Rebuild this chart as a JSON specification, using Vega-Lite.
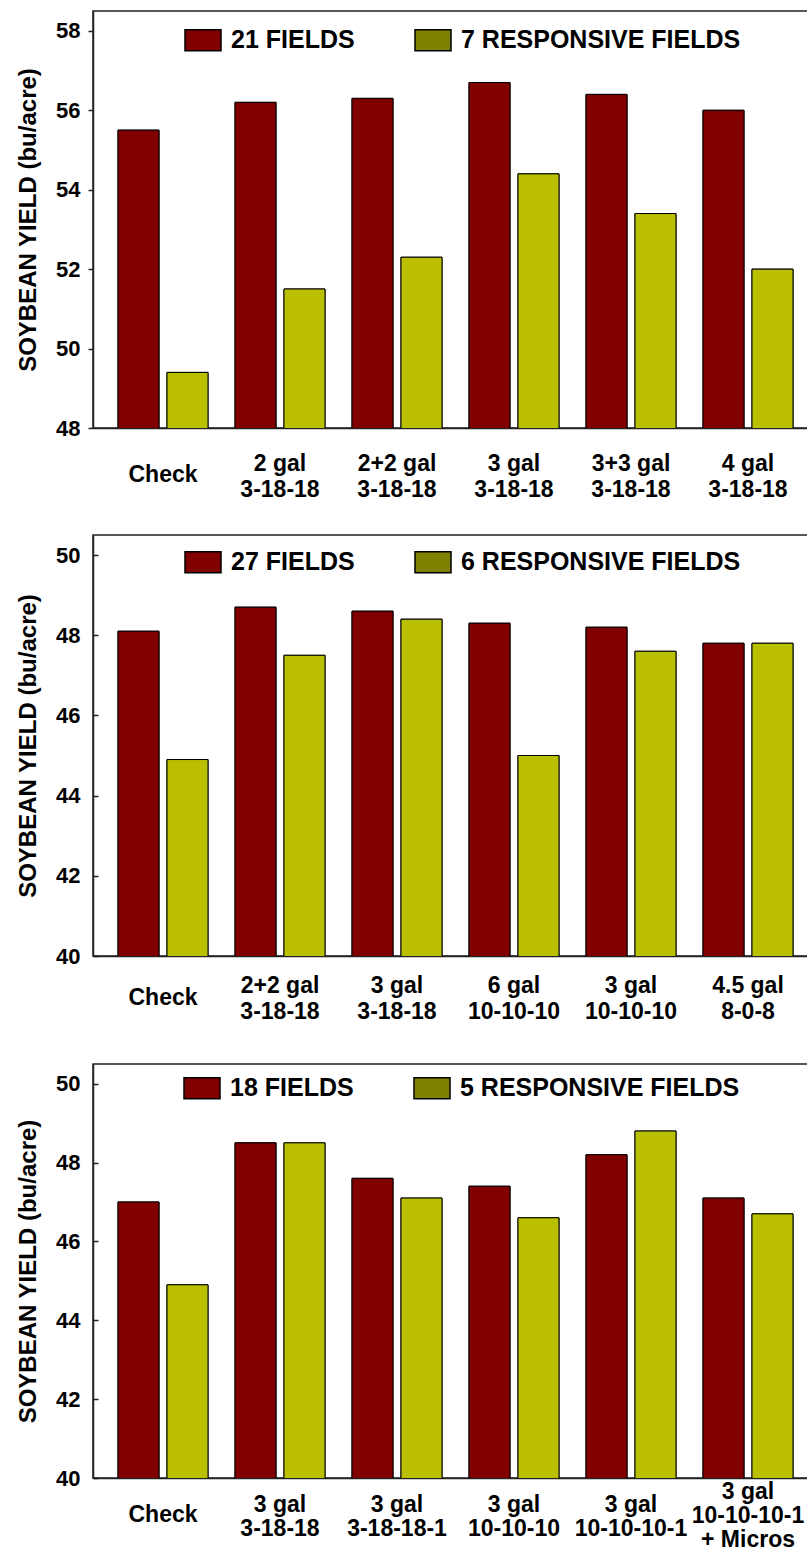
{
  "$schema": "https://vega.github.io/schema/vega-lite/v6.json",
  "padding": {"left": 15, "top": 10, "right": 0, "bottom": 0},
  "background": "white",
  "datasets": {
    "p1": [
      {"treatment": "Check", "series": "21 FIELDS", "yield": 55.5},
      {"treatment": "Check", "series": "7 RESPONSIVE FIELDS", "yield": 49.4},
      {"treatment": "2 gal\n3-18-18", "series": "21 FIELDS", "yield": 56.2},
      {"treatment": "2 gal\n3-18-18", "series": "7 RESPONSIVE FIELDS", "yield": 51.5},
      {"treatment": "2+2 gal\n3-18-18", "series": "21 FIELDS", "yield": 56.3},
      {"treatment": "2+2 gal\n3-18-18", "series": "7 RESPONSIVE FIELDS", "yield": 52.3},
      {"treatment": "3 gal\n3-18-18", "series": "21 FIELDS", "yield": 56.7},
      {"treatment": "3 gal\n3-18-18", "series": "7 RESPONSIVE FIELDS", "yield": 54.4},
      {"treatment": "3+3 gal\n3-18-18", "series": "21 FIELDS", "yield": 56.4},
      {"treatment": "3+3 gal\n3-18-18", "series": "7 RESPONSIVE FIELDS", "yield": 53.4},
      {"treatment": "4 gal\n3-18-18", "series": "21 FIELDS", "yield": 56.0},
      {"treatment": "4 gal\n3-18-18", "series": "7 RESPONSIVE FIELDS", "yield": 52.0}
    ],
    "p2": [
      {"treatment": "Check", "series": "27 FIELDS", "yield": 48.1},
      {"treatment": "Check", "series": "6 RESPONSIVE FIELDS", "yield": 44.9},
      {"treatment": "2+2 gal\n3-18-18", "series": "27 FIELDS", "yield": 48.7},
      {"treatment": "2+2 gal\n3-18-18", "series": "6 RESPONSIVE FIELDS", "yield": 47.5},
      {"treatment": "3 gal\n3-18-18", "series": "27 FIELDS", "yield": 48.6},
      {"treatment": "3 gal\n3-18-18", "series": "6 RESPONSIVE FIELDS", "yield": 48.4},
      {"treatment": "6 gal\n10-10-10", "series": "27 FIELDS", "yield": 48.3},
      {"treatment": "6 gal\n10-10-10", "series": "6 RESPONSIVE FIELDS", "yield": 45.0},
      {"treatment": "3 gal\n10-10-10", "series": "27 FIELDS", "yield": 48.2},
      {"treatment": "3 gal\n10-10-10", "series": "6 RESPONSIVE FIELDS", "yield": 47.6},
      {"treatment": "4.5 gal\n8-0-8", "series": "27 FIELDS", "yield": 47.8},
      {"treatment": "4.5 gal\n8-0-8", "series": "6 RESPONSIVE FIELDS", "yield": 47.8}
    ],
    "p3": [
      {"treatment": "Check", "series": "18 FIELDS", "yield": 47.0},
      {"treatment": "Check", "series": "5 RESPONSIVE FIELDS", "yield": 44.9},
      {"treatment": "3 gal\n3-18-18", "series": "18 FIELDS", "yield": 48.5},
      {"treatment": "3 gal\n3-18-18", "series": "5 RESPONSIVE FIELDS", "yield": 48.5},
      {"treatment": "3 gal\n3-18-18-1", "series": "18 FIELDS", "yield": 47.6},
      {"treatment": "3 gal\n3-18-18-1", "series": "5 RESPONSIVE FIELDS", "yield": 47.1},
      {"treatment": "3 gal\n10-10-10", "series": "18 FIELDS", "yield": 47.4},
      {"treatment": "3 gal\n10-10-10", "series": "5 RESPONSIVE FIELDS", "yield": 46.6},
      {"treatment": "3 gal\n10-10-10-1", "series": "18 FIELDS", "yield": 48.2},
      {"treatment": "3 gal\n10-10-10-1", "series": "5 RESPONSIVE FIELDS", "yield": 48.8},
      {"treatment": "3 gal\n10-10-10-1\n+ Micros", "series": "18 FIELDS", "yield": 47.1},
      {"treatment": "3 gal\n10-10-10-1\n+ Micros", "series": "5 RESPONSIVE FIELDS", "yield": 46.7}
    ]
  },
  "spacing": 32,
  "resolve": {"scale": {"x": "independent", "y": "independent", "color": "independent", "fill": "independent", "xOffset": "independent"}, "legend": {"color": "independent"}, "axis": {"x": "independent", "y": "independent"}},
  "vconcat": [
    {
      "width": 715, "height": 417,
      "data": {"name": "p1"},
      "encoding": {
        "x": {"field": "treatment", "type": "nominal", "sort": null,
              "scale": {"paddingInner": 0.2308, "paddingOuter": 0.171, "align": 0.625},
              "axis": {"labelLineHeight": 26, "labelPadding": {"condition": {"test": "datum.value === 'Check'", "value": 46}, "value": 35}}},
        "xOffset": {"field": "series", "type": "nominal", "sort": ["21 FIELDS", "7 RESPONSIVE FIELDS"],
                    "scale": {"paddingInner": 0.163, "paddingOuter": 0}},
        "y": {"field": "yield", "type": "quantitative",
              "scale": {"domain": [48, 58.5], "nice": false, "zero": false},
              "axis": {"title": "SOYBEAN YIELD (bu/acre)", "values": [48, 50, 52, 54, 56, 58], "tickSize": 5, "labelPadding": 8}}
      },
      "layer": [
        {
          "mark": {"type": "bar", "stroke": "#000000", "strokeWidth": 1, "clip": true},
          "encoding": {
            "color": {"field": "series", "type": "nominal",
                      "scale": {"domain": ["21 FIELDS", "7 RESPONSIVE FIELDS"], "range": ["#800000", "#808000"]},
                      "legend": {"legendX": 91, "legendY": 10}}
          }
        },
        {
          "mark": {"type": "bar", "stroke": "#000000", "strokeWidth": 1, "clip": true},
          "encoding": {
            "fill": {"field": "series", "type": "nominal",
                     "scale": {"domain": ["21 FIELDS", "7 RESPONSIVE FIELDS"], "range": ["#800000", "#BABF00"]},
                     "legend": null}
          }
        }
      ]
    },
    {
      "spacing": 39,
      "resolve": {"scale": {"x": "independent", "y": "independent", "color": "independent", "fill": "independent", "xOffset": "independent"}, "legend": {"color": "independent"}, "axis": {"x": "independent", "y": "independent"}},
      "vconcat": [
        {
          "width": 715, "height": 421,
          "data": {"name": "p2"},
          "encoding": {
            "x": {"field": "treatment", "type": "nominal", "sort": null,
                  "scale": {"paddingInner": 0.2308, "paddingOuter": 0.171, "align": 0.625},
                  "axis": {"labelLineHeight": 26, "labelPadding": {"condition": {"test": "datum.value === 'Check'", "value": 41}, "value": 29}}},
            "xOffset": {"field": "series", "type": "nominal", "sort": ["27 FIELDS", "6 RESPONSIVE FIELDS"],
                        "scale": {"paddingInner": 0.163, "paddingOuter": 0}},
            "y": {"field": "yield", "type": "quantitative",
                  "scale": {"domain": [40, 50.5], "nice": false, "zero": false},
                  "axis": {"title": "SOYBEAN YIELD (bu/acre)", "values": [40, 42, 44, 46, 48, 50], "tickSize": -5, "labelPadding": 18}}
          },
          "layer": [
            {
              "mark": {"type": "bar", "stroke": "#000000", "strokeWidth": 1, "clip": true},
              "encoding": {
                "color": {"field": "series", "type": "nominal",
                          "scale": {"domain": ["27 FIELDS", "6 RESPONSIVE FIELDS"], "range": ["#800000", "#808000"]},
                          "legend": {"legendX": 91, "legendY": 8}}
              }
            },
            {
              "mark": {"type": "bar", "stroke": "#000000", "strokeWidth": 1, "clip": true},
              "encoding": {
                "fill": {"field": "series", "type": "nominal",
                         "scale": {"domain": ["27 FIELDS", "6 RESPONSIVE FIELDS"], "range": ["#800000", "#BABF00"]},
                         "legend": null}
              }
            }
          ]
        },
        {
          "width": 715, "height": 414,
          "data": {"name": "p3"},
          "encoding": {
            "x": {"field": "treatment", "type": "nominal", "sort": null,
                  "scale": {"paddingInner": 0.2308, "paddingOuter": 0.171, "align": 0.625},
                  "axis": {"labelLineHeight": 24, "labelPadding": {"condition": [{"test": "datum.value === 'Check'", "value": 36}, {"test": "datum.value === '3 gal\\n10-10-10-1\\n+ Micros'", "value": 13}], "value": 26}}},
            "xOffset": {"field": "series", "type": "nominal", "sort": ["18 FIELDS", "5 RESPONSIVE FIELDS"],
                        "scale": {"paddingInner": 0.163, "paddingOuter": 0}},
            "y": {"field": "yield", "type": "quantitative",
                  "scale": {"domain": [40, 50.5], "nice": false, "zero": false},
                  "axis": {"title": "SOYBEAN YIELD (bu/acre)", "values": [40, 42, 44, 46, 48, 50], "tickSize": -5, "labelPadding": 18}}
          },
          "layer": [
            {
              "mark": {"type": "bar", "stroke": "#000000", "strokeWidth": 1, "clip": true},
              "encoding": {
                "color": {"field": "series", "type": "nominal",
                          "scale": {"domain": ["18 FIELDS", "5 RESPONSIVE FIELDS"], "range": ["#800000", "#808000"]},
                          "legend": {"legendX": 90, "legendY": 5}}
              }
            },
            {
              "mark": {"type": "bar", "stroke": "#000000", "strokeWidth": 1, "clip": true},
              "encoding": {
                "fill": {"field": "series", "type": "nominal",
                         "scale": {"domain": ["18 FIELDS", "5 RESPONSIVE FIELDS"], "range": ["#800000", "#BABF00"]},
                         "legend": null}
              }
            }
          ]
        }
      ]
    }
  ],
  "config": {
    "font": "Liberation Sans",
    "view": {"stroke": "#222222", "strokeWidth": 1.5},
    "axis": {
      "labelFont": "Liberation Sans", "labelFontWeight": "bold", "labelColor": "#000000",
      "titleFont": "Liberation Sans", "titleFontWeight": "bold", "titleColor": "#000000",
      "domainColor": "#222222", "domainWidth": 1.5, "tickColor": "#222222", "tickWidth": 1.5,
      "grid": false
    },
    "axisX": {
      "title": null, "labelAngle": 0, "ticks": false, "tickSize": 0,
      "labelFontSize": 23, "labelBaseline": "middle",
      "labelExpr": "split(datum.label, '\\n')", "labelLimit": 300
    },
    "axisY": {
      "titleFontSize": 24, "titlePadding": 15,
      "labelFontSize": 22
    },
    "legend": {
      "title": null, "orient": "none", "direction": "horizontal",
      "symbolType": "M-1,-0.583H1V0.583H-1Z", "symbolSize": 1296,
      "symbolStrokeColor": "#000000", "symbolStrokeWidth": 1.5, "symbolOpacity": 1,
      "labelFont": "Liberation Sans", "labelFontSize": 25, "labelFontWeight": "bold", "labelColor": "#000000",
      "labelOffset": 9, "columnPadding": 57, "labelLimit": 400, "padding": 0
    }
  }
}
